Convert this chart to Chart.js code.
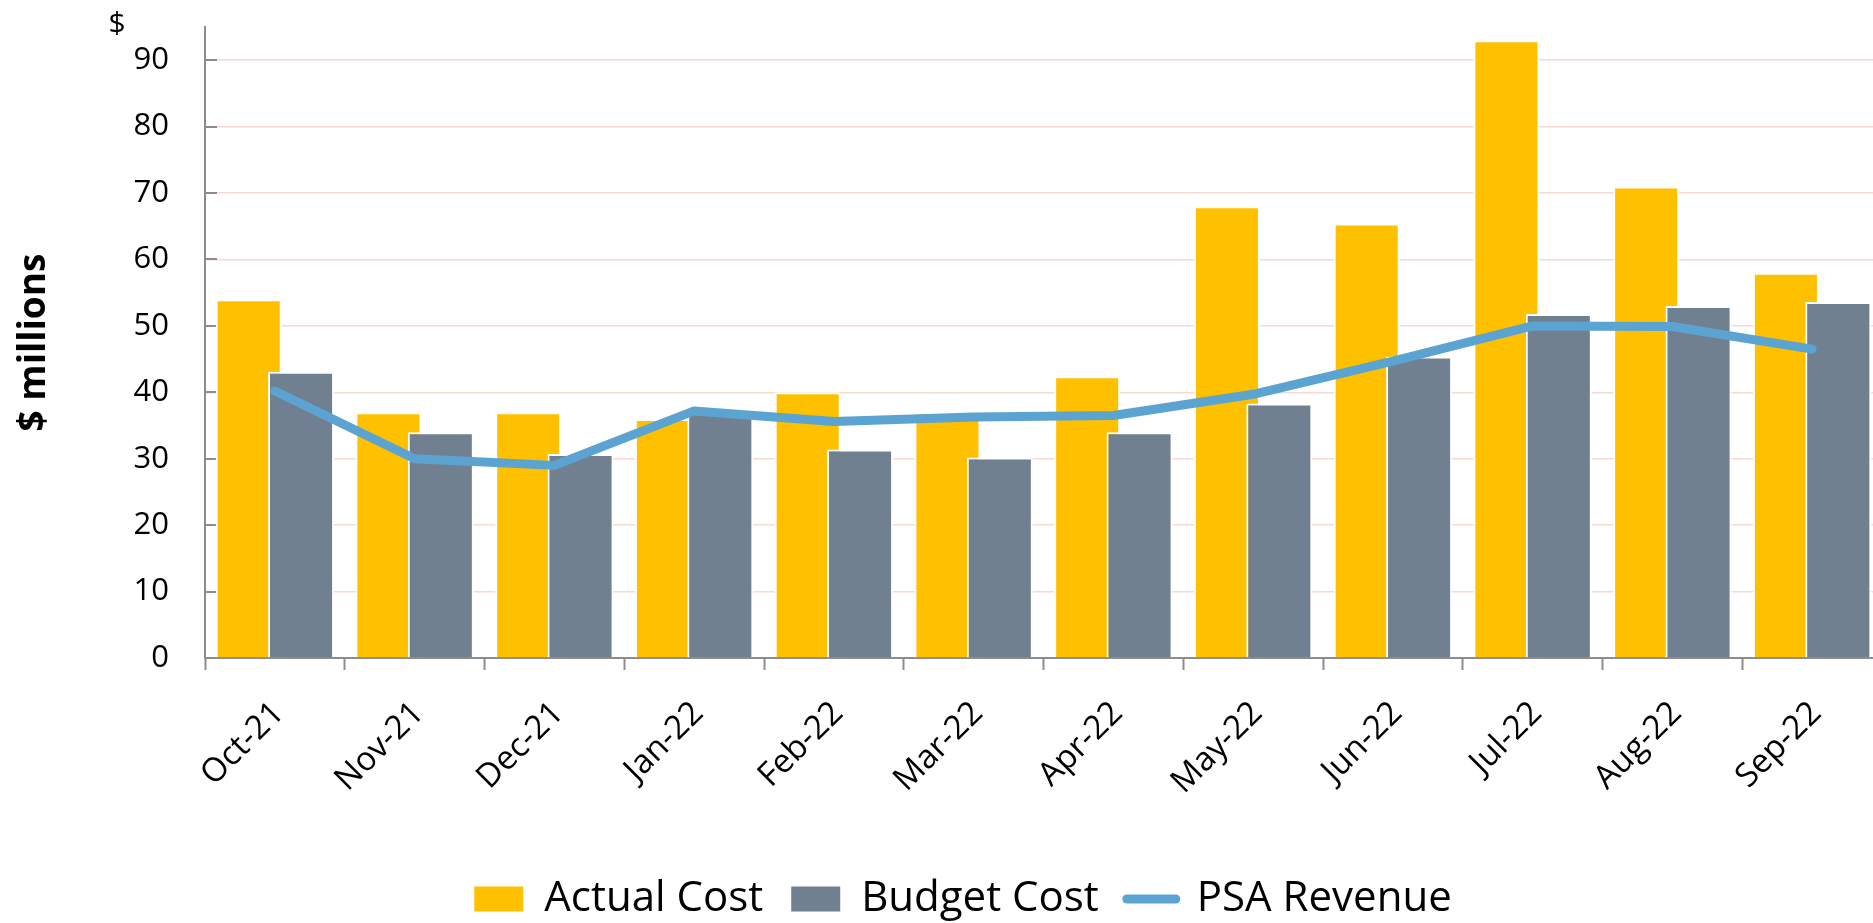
<!DOCTYPE html>
<html>
<head>
<meta charset="utf-8">
<title>Actual vs Budget Cost</title>
<script src="https://cdn.jsdelivr.net/npm/chart.js"></script>
<style>
  html, body { margin: 0; padding: 0; background: #fff; overflow: hidden; }
  .wrap { width: 1890px; height: 923px; }
</style>
</head>
<body>
<div class="wrap"><canvas id="canvas"></canvas></div>
<script>
var months = ['Oct-21', 'Nov-21', 'Dec-21', 'Jan-22', 'Feb-22', 'Mar-22', 'Apr-22', 'May-22', 'Jun-22', 'Jul-22', 'Aug-22', 'Sep-22']
var actualCost = [54, 37, 37, 36, 40, 37, 42.4, 68, 65.4, 93, 71, 58]
var budgetCost = [43.1, 34, 30.7, 37, 31.4, 30.2, 34, 38.3, 45.4, 51.8, 53, 53.6]
var psaRevenue = [40.2, 30, 29, 37.2, 35.6, 36.3, 36.5, 39.7, 44.7, 50, 49.9, 46.5]
var yTicks = [0, 10, 20, 30, 40, 50, 60, 70, 80, 90]

Chart.defaults.font.family = "'Open Sans', sans-serif"
Chart.defaults.color = '#000'

// "$" above the value axis, inside tick marks, and budget bars painted over actual bars
let extras = {
    id: 'extras',
    beforeDatasetsDraw(chart) {
        let ctx = chart.ctx
        let y = chart.scales.y
        let left = chart.chartArea.left
        ctx.save()
        ctx.strokeStyle = '#8c8c8c'
        ctx.lineWidth = 2
        yTicks.forEach(function(v) {
            let py = Math.round(y.getPixelForValue(v))
            ctx.beginPath()
            ctx.moveTo(left, py)
            ctx.lineTo(left + 12, py)
            ctx.stroke()
        })
        ctx.restore()
    },
    beforeDatasetDraw(chart, args) {
        if (args.index === 0) return false
        if (args.index === 1) chart.getDatasetMeta(0).controller.draw()
    },
    afterDraw(chart) {
        let ctx = chart.ctx
        ctx.save()
        ctx.font = "30px 'Open Sans'"
        ctx.fillStyle = '#000'
        ctx.textAlign = 'center'
        ctx.textBaseline = 'middle'
        ctx.fillText('$', chart.chartArea.left - 88, chart.chartArea.top - 3)
        ctx.restore()
    }
}

let myChart = document.getElementById('canvas').getContext('2d');

let costChart = new Chart(myChart, {
    type: 'bar',
    data: {
        labels: months,
        datasets: [{
            label: 'Actual Cost',
            data: actualCost,
            backgroundColor: '#FFC000',
            borderColor: '#ffffff',
            borderWidth: 2,
            categoryPercentage: 0.75,
            barPercentage: 1.26,
            order: 1
        }, {
            label: 'Budget Cost',
            data: budgetCost,
            backgroundColor: '#708090',
            borderColor: '#ffffff',
            borderWidth: 2,
            categoryPercentage: 0.75,
            barPercentage: 1.26,
            order: 2
        }, {
            type: 'line',
            label: 'PSA Revenue',
            data: psaRevenue,
            borderColor: '#5BA4D2',
            backgroundColor: '#5BA4D2',
            borderWidth: 9,
            borderCapStyle: 'round',
            borderJoinStyle: 'round',
            pointRadius: 0,
            tension: 0,
            order: 0
        }]
    },
    options: {
        responsive: true,
        maintainAspectRatio: false,
        animation: false,
        layout: { padding: { left: 44, right: 8, top: 27, bottom: -7 } },
        plugins: {
            tooltip: { enabled: false },
            legend: {
                position: 'bottom',
                labels: {
                    font: { size: 42 },
                    usePointStyle: true,
                    pointStyleWidth: 49,
                    boxHeight: 25,
                    padding: 28,
                    sort: function(a, b) { return a.datasetIndex - b.datasetIndex },
                    generateLabels: function(chart) {
                        let items = Chart.defaults.plugins.legend.labels.generateLabels(chart)
                        items.forEach(function(item) {
                            let ds = chart.data.datasets[item.datasetIndex]
                            if (ds.type === 'line') {
                                item.pointStyle = 'line'
                                item.lineWidth = 9
                                item.lineCap = 'round'
                                item.strokeStyle = ds.borderColor
                            } else {
                                item.pointStyle = 'rect'
                                item.lineWidth = 0
                                item.strokeStyle = ds.backgroundColor
                            }
                        })
                        return items
                    }
                }
            }
        },
        scales: {
            x: {
                grid: { offset: true, drawOnChartArea: false, drawTicks: true, tickLength: 12, tickColor: '#8c8c8c', tickWidth: 2 },
                border: { color: '#8c8c8c', width: 2 },
                ticks: { font: { size: 33 }, minRotation: 45, maxRotation: 45, padding: 24, labelOffset: 4, autoSkip: false },
                afterFit: function(scale) { scale.height = 192 }
            },
            y: {
                min: 0,
                max: 95,
                ticks: { stepSize: 10, font: { size: 31 }, padding: 36 },
                afterBuildTicks: function(scale) {
                    scale.ticks = yTicks.map(function(v) { return { value: v } })
                },
                grid: { color: '#F8D9CF', lineWidth: 1.5, drawTicks: false },
                border: { color: '#8c8c8c', width: 2 },
                title: { display: true, text: '$ millions', font: { size: 37, weight: 'bold' }, padding: { top: -32, bottom: 0 } },
                afterFit: function(scale) {
                    scale.width = 161
                    scale.paddingTop = 0
                    scale.paddingBottom = 0
                }
            }
        }
    },
    plugins: [extras]
})
</script>
</body>
</html>
